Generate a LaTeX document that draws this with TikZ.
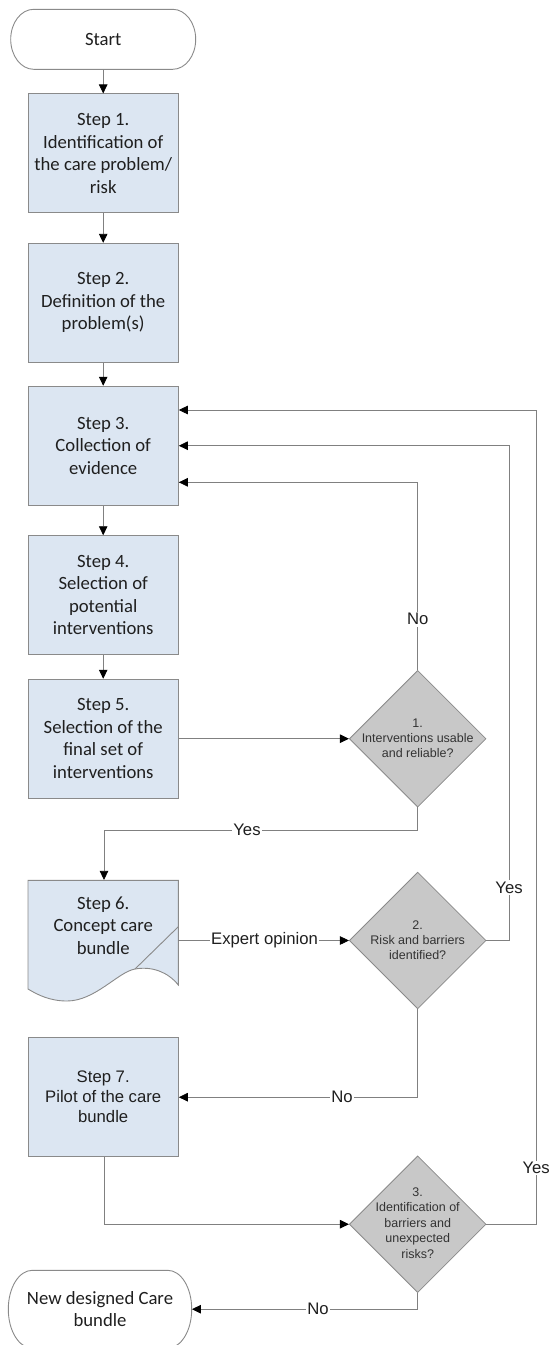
\documentclass[tikz,border=0pt]{standalone}
\usepackage{fontspec}
\setmainfont{Carlito}
\newfontfamily\arialf{Liberation Sans}
\usetikzlibrary{arrows.meta,shapes.geometric}
\definecolor{boxfill}{HTML}{DCE6F2}
\definecolor{diafill}{HTML}{C8C8C8}
\definecolor{edgecol}{HTML}{8A8A8A}
\definecolor{linecol}{HTML}{808080}
\definecolor{txt}{HTML}{1F1F1F}
\definecolor{diatxt}{HTML}{333333}
\tikzset{
  stepbox/.style={draw=edgecol, line width=0.9pt, fill=boxfill, minimum width=150.3pt,
    minimum height=119pt, inner sep=0pt, align=center, text=txt,
    font=\fontsize{18.7}{22.5}\selectfont},
  arialbox/.style={stepbox, font=\arialf\fontsize{16.7}{20}\selectfont},
  steptext/.style={align=center, text=txt, inner sep=0pt, font=\fontsize{18.7}{22.5}\selectfont},
  outline/.style={draw=edgecol, line width=0.9pt},
  dia/.style={diamond, draw=edgecol, fill=diafill, line width=0.8pt, inner sep=0pt,
    minimum width=136.7pt, minimum height=136.7pt},
  dtext/.style={align=center, text=diatxt, inner sep=0pt, font=\arialf\fontsize{12.5}{15}\selectfont},
  conn/.style={draw=linecol, line width=0.8pt, -{Triangle[length=9pt,width=8.5pt,color=black]}},
  lbl/.style={fill=white, inner sep=1.5pt, text=txt, font=\arialf\fontsize{16.7}{20}\selectfont},
}
\begin{document}
\begin{tikzpicture}[x=1pt,y=-1pt]
\useasboundingbox (0,0) rectangle (551,1345);

% Start terminal
\draw[outline, fill=white] (33.7,9.3) -- (172.7,9.3) .. controls (185.4,9.3) and (195.7,22.7) .. (195.7,39.3)
  .. controls (195.7,55.9) and (185.4,69.3) .. (172.7,69.3) -- (33.7,69.3)
  .. controls (21,69.3) and (10.7,55.9) .. (10.7,39.3) .. controls (10.7,22.7) and (21,9.3) .. (33.7,9.3) -- cycle;
\node[steptext, minimum width=185pt, minimum height=60pt] (start) at (103.2,39.3) {Start};

% Steps
\node[stepbox] (s1) at (103.2,153.4) {Step 1.\\Identification of\\the care problem/\\risk};
\node[stepbox] (s2) at (103.2,302.8) {Step 2.\\Definition of the\\problem(s)};
\node[stepbox] (s3) at (103.2,445.7) {Step 3.\\Collection of\\evidence};
\node[stepbox] (s4) at (103.2,595.2) {Step 4.\\Selection of\\potential\\interventions};
\node[stepbox] (s5) at (103.2,738.7) {Step 5.\\Selection of the\\final set of\\interventions};

% Step 6 (document shape)
\draw[outline, fill=boxfill] (28,880.3) -- (178.3,880.3) -- (178.3,985)
  .. controls (168,972) and (152,966) .. (135,969)
  .. controls (118,972) and (95,1001) .. (67,1001)
  .. controls (50,1001) and (38,995) .. (28,989) -- cycle;
\draw[outline] (178.3,926.7) -- (135,969);
\node[minimum width=150.3pt, minimum height=105pt, inner sep=0pt] (s6) at (103.2,932.6) {};
\node[steptext] (s6t) at (103.2,925.7) {Step 6.\\Concept care\\bundle};
\coordinate (s6r) at (178.3,940.5);

\node[arialbox] (s7) at (103.2,1097.2) {Step 7.\\Pilot of the care\\bundle};

% End terminal
\draw[outline, fill=white] (32.3,1270.3) -- (167.7,1270.3) .. controls (181,1270.3) and (191.7,1287.5) .. (191.7,1309.2)
  .. controls (191.7,1330.9) and (181,1348.1) .. (167.7,1348.1) -- (32.3,1348.1)
  .. controls (19,1348.1) and (8.3,1330.9) .. (8.3,1309.2) .. controls (8.3,1287.5) and (19,1270.3) .. (32.3,1270.3) -- cycle;
\node[steptext, minimum width=183.4pt, minimum height=77pt] (end) at (100,1309.2) {New designed Care\\bundle};

% Decisions
\node[dia] (d1) at (417.7,738.7) {};
\node[dtext] (d1t) at (d1) {1.\\Interventions usable\\and reliable?};
\node[dia] (d2) at (417.7,940.5) {};
\node[dtext] (d2t) at (d2) {2.\\Risk and barriers\\identified?};
\node[dia] (d3) at (417.7,1224.2) {};
\node[dtext, font=\arialf\fontsize{12.5}{15.6}\selectfont] (d3t) at (417.7,1223) {3.\\Identification of\\barriers and\\unexpected\\risks?};

% Main flow
\draw[conn] (start) -- (s1);
\draw[conn] (s1) -- (s2);
\draw[conn] (s2) -- (s3);
\draw[conn] (s3) -- (s4);
\draw[conn] (s4) -- (s5);
\draw[conn] (s5.east) -- (d1.west);

% Decision 1
\coordinate (f1) at (417.7,482.3);
\draw[conn] (d1.north) -- (f1) -- (f1 -| s3.east);
\node[lbl] (no1) at (417.7,619.3) {No};
\coordinate (y1) at (417.7,830);
\coordinate (y1b) at (104,830);
\draw[conn] (d1.south) -- (y1) -- (y1b) -- (y1b |- s6.north);
\node[lbl] (yes1) at (247,830) {Yes};

% Decision 2
\draw[conn] (s6r) -- (d2.west);
\node[lbl] (exp) at (264.5,940.5) {Expert opinion};
\coordinate (f2) at (509,445.7);
\draw[conn] (d2.east) -| (f2) -- (f2 -| s3.east);
\node[lbl] (yes2) at (509,887.7) {Yes};
\draw[conn] (d2.south) |- (s7.east);
\node[lbl] (no2) at (342,1097.2) {No};

% Decision 3
\coordinate (s7b) at (104,1157);
\draw[conn] (s7b) |- (d3.west);
\coordinate (f3) at (536.7,410);
\draw[conn] (d3.east) -| (f3) -- (f3 -| s3.east);
\node[lbl] (yes3) at (536.2,1168) {Yes};
\draw[conn] (d3.south) |- (end.east);
\node[lbl] (no3) at (318,1309.2) {No};
\end{tikzpicture}
\end{document}
